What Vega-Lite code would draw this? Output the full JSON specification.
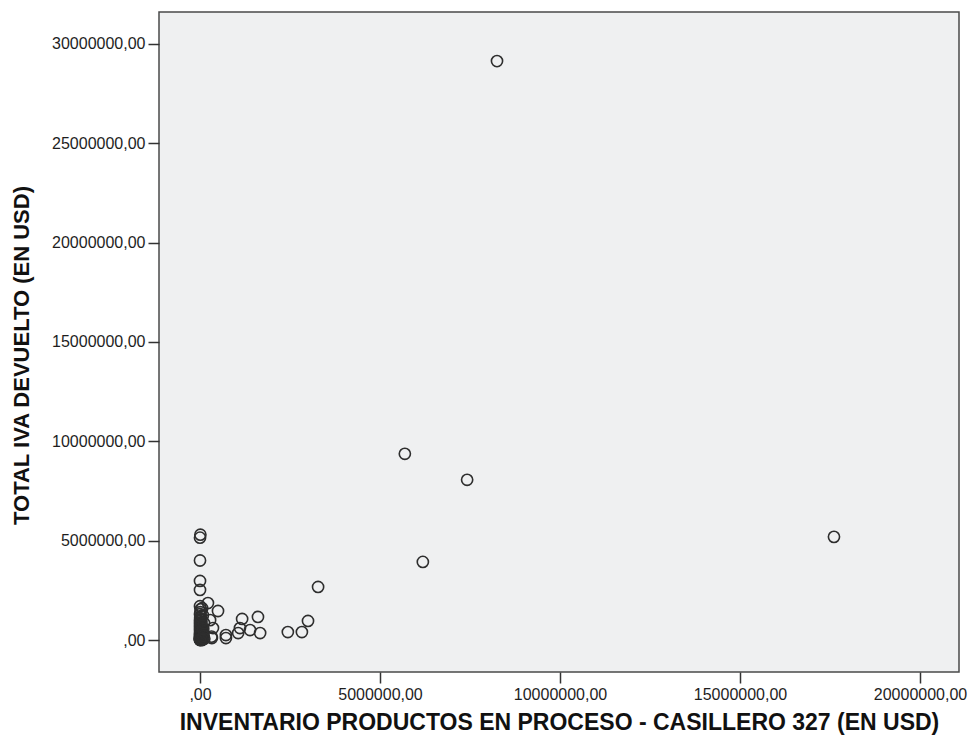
{
  "$schema": "https://vega.github.io/schema/vega-lite/v6.json",
  "width": 800,
  "height": 660,
  "autosize": {"type": "none"},
  "padding": {"left": 159, "top": 12, "right": 12, "bottom": 70},
  "background": "#ffffff",
  "config": {
    "view": {"fill": "#eff0f1", "stroke": "#4a4a4a", "strokeWidth": 1.5},
    "font": "Liberation Sans"
  },
  "data": {
    "values": [
      {"inventario": 8250000, "iva": 29130000},
      {"inventario": 5690000, "iva": 9370000},
      {"inventario": 7420000, "iva": 8060000},
      {"inventario": 6190000, "iva": 3930000},
      {"inventario": 17610000, "iva": 5190000},
      {"inventario": 3280000, "iva": 2670000},
      {"inventario": 3000000, "iva": 960000},
      {"inventario": 2440000, "iva": 400000},
      {"inventario": 2830000, "iva": 400000},
      {"inventario": 1610000, "iva": 1160000},
      {"inventario": 1670000, "iva": 350000},
      {"inventario": 1170000, "iva": 1060000},
      {"inventario": 1390000, "iva": 500000},
      {"inventario": 1110000, "iva": 600000},
      {"inventario": 1060000, "iva": 350000},
      {"inventario": 720000, "iva": 250000},
      {"inventario": 720000, "iva": 100000},
      {"inventario": 500000, "iva": 1460000},
      {"inventario": 220000, "iva": 1860000},
      {"inventario": 330000, "iva": 100000},
      {"inventario": 360000, "iva": 600000},
      {"inventario": 280000, "iva": 1000000},
      {"inventario": 320000, "iva": 170000},
      {"inventario": 10000, "iva": 5300000},
      {"inventario": 0, "iva": 5150000},
      {"inventario": 0, "iva": 4000000},
      {"inventario": 0, "iva": 2970000},
      {"inventario": 0, "iva": 2520000},
      {"inventario": 0, "iva": 1700000},
      {"inventario": 20000, "iva": 1550000},
      {"inventario": 10000, "iva": 1400000},
      {"inventario": 0, "iva": 1300000},
      {"inventario": 30000, "iva": 1200000},
      {"inventario": 5000, "iva": 1100000},
      {"inventario": 15000, "iva": 1000000},
      {"inventario": 0, "iva": 950000},
      {"inventario": 40000, "iva": 900000},
      {"inventario": 10000, "iva": 850000},
      {"inventario": 0, "iva": 800000},
      {"inventario": 25000, "iva": 750000},
      {"inventario": 50000, "iva": 700000},
      {"inventario": 0, "iva": 650000},
      {"inventario": 15000, "iva": 600000},
      {"inventario": 35000, "iva": 550000},
      {"inventario": 0, "iva": 500000},
      {"inventario": 60000, "iva": 480000},
      {"inventario": 10000, "iva": 450000},
      {"inventario": 20000, "iva": 400000},
      {"inventario": 0, "iva": 380000},
      {"inventario": 45000, "iva": 350000},
      {"inventario": 5000, "iva": 320000},
      {"inventario": 30000, "iva": 300000},
      {"inventario": 0, "iva": 280000},
      {"inventario": 70000, "iva": 260000},
      {"inventario": 15000, "iva": 240000},
      {"inventario": 0, "iva": 220000},
      {"inventario": 25000, "iva": 200000},
      {"inventario": 40000, "iva": 180000},
      {"inventario": 0, "iva": 160000},
      {"inventario": 10000, "iva": 150000},
      {"inventario": 55000, "iva": 130000},
      {"inventario": 0, "iva": 120000},
      {"inventario": 20000, "iva": 100000},
      {"inventario": 35000, "iva": 90000},
      {"inventario": 0, "iva": 80000},
      {"inventario": 5000, "iva": 70000},
      {"inventario": 15000, "iva": 60000},
      {"inventario": 0, "iva": 50000},
      {"inventario": 30000, "iva": 40000},
      {"inventario": 0, "iva": 30000},
      {"inventario": 10000, "iva": 20000},
      {"inventario": 45000, "iva": 15000},
      {"inventario": 0, "iva": 10000},
      {"inventario": 20000, "iva": 5000},
      {"inventario": 0, "iva": 0},
      {"inventario": 60000, "iva": 0},
      {"inventario": 80000, "iva": 100000},
      {"inventario": 100000, "iva": 200000},
      {"inventario": 120000, "iva": 60000},
      {"inventario": 90000, "iva": 550000},
      {"inventario": 110000, "iva": 850000},
      {"inventario": 80000, "iva": 1250000},
      {"inventario": 60000, "iva": 1600000}
    ]
  },
  "mark": {
    "type": "point",
    "shape": "circle",
    "filled": false,
    "size": 125,
    "stroke": "#2e2e2e",
    "strokeWidth": 1.6,
    "opacity": 1
  },
  "encoding": {
    "x": {
      "field": "inventario",
      "type": "quantitative",
      "scale": {"domain": [-1139000, 21083000], "nice": false, "zero": false},
      "axis": {
        "title": "INVENTARIO PRODUCTOS EN PROCESO - CASILLERO 327 (EN USD)",
        "values": [0, 5000000, 10000000, 15000000, 20000000],
        "labelExpr": "datum.value == 0 ? ',00' : format(datum.value, 'd') + ',00'",
        "grid": false,
        "domain": false,
        "tickSize": 11,
        "tickWidth": 1.5,
        "tickColor": "#333333",
        "labelFont": "Liberation Sans",
        "labelFontSize": 16,
        "labelColor": "#1e1e1e",
        "labelPadding": 3,
        "titleFont": "Liberation Sans",
        "titleFontSize": 23,
        "titleFontWeight": "bold",
        "titleColor": "#111111",
        "titleBaseline": "middle",
        "titleY": 50
      }
    },
    "y": {
      "field": "iva",
      "type": "quantitative",
      "scale": {"domain": [-1610000, 31600000], "nice": false, "zero": false},
      "axis": {
        "title": "TOTAL IVA DEVUELTO (EN USD)",
        "values": [0, 5000000, 10000000, 15000000, 20000000, 25000000, 30000000],
        "labelExpr": "datum.value == 0 ? ',00' : format(datum.value, 'd') + ',00'",
        "grid": false,
        "domain": false,
        "tickSize": 11,
        "tickWidth": 1.5,
        "tickColor": "#333333",
        "labelFont": "Liberation Sans",
        "labelFontSize": 16,
        "labelColor": "#1e1e1e",
        "labelPadding": 3,
        "titleFont": "Liberation Sans",
        "titleFontSize": 22,
        "titleFontWeight": "bold",
        "titleColor": "#111111",
        "titleBaseline": "middle",
        "titleX": -138,
        "titleY": 343
      }
    }
  }
}
